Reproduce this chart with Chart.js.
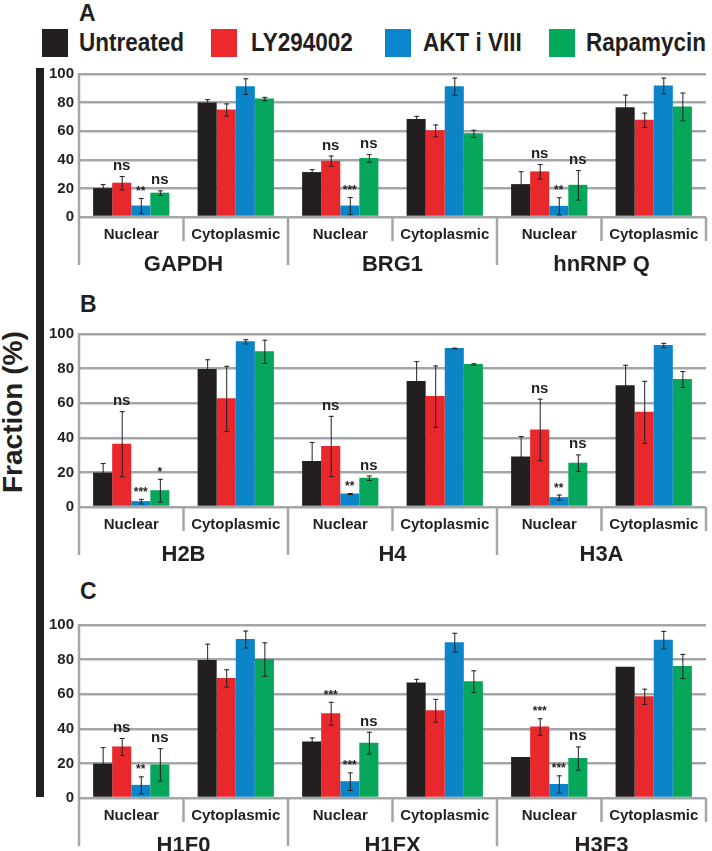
<!DOCTYPE html>
<html>
<head>
<meta charset="utf-8">
<script src="https://cdn.jsdelivr.net/npm/chart.js@4"></script>
<style>
  body { margin: 0; background: #fff; }
  #page { position: relative; width: 712px; height: 851px; overflow: hidden; font-family: "Liberation Sans", Arial, sans-serif; color: #231f20; }
  .box { position: absolute; }
  .sq { position: absolute; top: 29px; width: 26px; height: 28px; }
  .lg { position: absolute; top: 27px; font-weight: bold; font-size: 25px; line-height: 30px; transform: scaleX(0.9); transform-origin: left center; white-space: nowrap; }
  .letter { position: absolute; font-weight: bold; font-size: 23px; line-height: 23px; }
  canvas { position: absolute; left: 0; }
</style>
</head>
<body>
<div id="page">
  <div class="letter" style="left:79px;top:2px">A</div>
  <div class="letter" style="left:80px;top:293px">B</div>
  <div class="letter" style="left:80px;top:580px">C</div>

  <div class="sq" style="left:42px;background:#231f20"></div>
  <div class="lg" style="left:79px">Untreated</div>
  <div class="sq" style="left:211px;background:#ec2a2e"></div>
  <div class="lg" style="left:251px">LY294002</div>
  <div class="sq" style="left:385px;background:#0a86cc"></div>
  <div class="lg" style="left:423px">AKT i VIII</div>
  <div class="sq" style="left:549px;background:#05a95c"></div>
  <div class="lg" style="left:586px">Rapamycin</div>

  <div class="box" style="left:36px;top:68px;width:8px;height:729px;background:#231f20"></div>
  <div class="box" style="left:-67px;top:396px;width:160px;height:34px;transform:rotate(-90deg);font-weight:bold;font-size:28px;line-height:34px;text-align:center;white-space:nowrap">Fraction (%)</div>

  <canvas id="chartA" width="712" height="217" style="top:60px"></canvas>
  <canvas id="chartB" width="712" height="247" style="top:320px"></canvas>
  <canvas id="chartC" width="712" height="247" style="top:611px"></canvas>
</div>
<script>
const treatments = ['Untreated', 'LY294002', 'AKT i VIII', 'Rapamycin'];
const treatmentColors = ['#231f20', '#e8282d', '#0b84c8', '#06a65b'];
const fractions = ['Nuclear', 'Cytoplasmic'];
const yTicks = [0, 20, 40, 60, 80, 100];

// panel A
const proteinsA = ['GAPDH', 'BRG1', 'hnRNP Q'];
const untreatedA = [20.2, 80, 31.4, 68.6, 23, 76.8];
const lyA = [24, 75.2, 39.4, 60.6, 31.9, 68];
const aktA = [8, 91.5, 8, 91.5, 7.8, 92];
const rapaA = [17, 82.8, 41.3, 58.5, 22.5, 77.3];
const errUntreatedA = [2.8, 2.4, 2.1, 2.1, 9, 8.8];
const errLyA = [4.7, 4.2, 3.6, 4.1, 5.1, 5];
const errAktA = [5.3, 5.5, 6, 6, 6, 5.5];
const errRapaA = [1.6, 1.2, 2.7, 2.5, 10.3, 9.7];
const sigLyA = ['ns', 'ns', 'ns'];
const sigAktA = ['**', '***', '**'];
const sigRapaA = ['ns', 'ns', 'ns'];

// panel B
const proteinsB = ['H2B', 'H4', 'H3A'];
const untreatedB = [19.9, 79.7, 26.6, 72.9, 29.2, 70.4];
const lyB = [36.6, 62.8, 35.3, 64.1, 44.8, 55];
const aktB = [3.4, 95.8, 7.8, 91.9, 5.7, 93.6];
const rapaB = [9.7, 90, 16.9, 82.6, 25.6, 74];
const errUntreatedB = [5.5, 5.7, 11, 11.4, 11.8, 11.8];
const errLyB = [18.8, 18.8, 17.4, 17.7, 17.8, 17.9];
const errAktB = [1.3, 1.2, 0.3, 0.2, 1.5, 1.3];
const errRapaB = [6.6, 6.7, 1.3, 0.5, 4.8, 4.6];
const sigLyB = ['ns', 'ns', 'ns'];
const sigAktB = ['***', '**', '**'];
const sigRapaB = ['*', 'ns', 'ns'];

// panel C
const proteinsC = ['H1F0', 'H1FX', 'H3F3'];
const untreatedC = [19.9, 79.7, 32.6, 66.8, 23.7, 75.9];
const lyC = [29.8, 69.4, 49, 50.7, 41.3, 58.8];
const aktC = [7.6, 91.9, 9.7, 90.1, 8.1, 91.5];
const rapaC = [19.4, 80.3, 32, 67.5, 23.1, 76.3];
const errUntreatedC = [9.5, 9.5, 2.4, 2.1, 0, 0];
const errLyC = [4.9, 5, 6.6, 6.6, 4.8, 4.4];
const errAktC = [4.9, 4.9, 5.1, 5.4, 5, 5.1];
const errRapaC = [9.4, 9.7, 6.3, 6.3, 6.7, 7];
const sigLyC = ['ns', '***', '***'];
const sigAktC = ['**', '***', '***'];
const sigRapaC = ['ns', 'ns', 'ns'];

const gridGrey = '#a3a7aa';
const inkColor = '#231f20';

// error bars, significance marks, category labels and separators
const panelDecor = {
  id: 'panelDecor',
  afterDatasetsDraw(chart) {
    const ctx = chart.ctx, y = chart.scales.y;
    ctx.save();
    chart.data.datasets.forEach((ds, i) => {
      const meta = chart.getDatasetMeta(i);
      meta.data.forEach((bar, j) => {
        const e = ds.errors[j];
        const hi = y.getPixelForValue(ds.data[j] + e);
        if (e > 0) {
          const lo = y.getPixelForValue(ds.data[j] - e);
          ctx.strokeStyle = inkColor;
          ctx.lineWidth = 1;
          ctx.beginPath();
          ctx.moveTo(bar.x + 0.5, hi); ctx.lineTo(bar.x + 0.5, lo);
          ctx.moveTo(bar.x - 2, hi + 0.5); ctx.lineTo(bar.x + 3, hi + 0.5);
          ctx.moveTo(bar.x - 2, lo + 0.5); ctx.lineTo(bar.x + 3, lo + 0.5);
          ctx.stroke();
        }
        if (ds.sig && j % 2 === 0) {
          const s = ds.sig[j / 2];
          ctx.fillStyle = inkColor;
          ctx.textAlign = 'center';
          ctx.textBaseline = 'alphabetic';
          ctx.font = s === 'ns' ? 'bold 15px "Liberation Sans", Arial' : 'bold 12px "Liberation Sans", Arial';
          ctx.fillText(s, bar.x, hi - (s === 'ns' ? 6 : 3));
        }
      });
    });
    ctx.restore();
  },
  afterDraw(chart) {
    const ctx = chart.ctx, x = chart.scales.x, area = chart.chartArea;
    const n = chart.data.labels.length;
    const groups = chart.options.plugins.panelDecor.groups;
    ctx.save();
    ctx.strokeStyle = gridGrey;
    ctx.lineWidth = 2.5;
    ctx.beginPath();
    ctx.moveTo(area.left, area.top - 1); ctx.lineTo(area.left, area.bottom + 48);
    for (let j = 0; j < n; j++) {
      const b = j === n - 1 ? area.right : (x.getPixelForValue(j) + x.getPixelForValue(j + 1)) / 2;
      const len = (j % 2 === 1 && j !== n - 1) ? 48 : 24;
      ctx.moveTo(b, area.bottom); ctx.lineTo(b, area.bottom + len);
    }
    ctx.stroke();
    ctx.fillStyle = inkColor;
    ctx.textAlign = 'center';
    ctx.textBaseline = 'middle';
    ctx.font = 'bold 15px "Liberation Sans", Arial';
    chart.data.labels.forEach((lab, j) => ctx.fillText(lab, x.getPixelForValue(j), area.bottom + 18));
    ctx.font = 'bold 22px "Liberation Sans", Arial';
    groups.forEach((g, k) => {
      const cx = (x.getPixelForValue(2 * k) + x.getPixelForValue(2 * k + 1)) / 2;
      ctx.fillText(g, cx, area.bottom + 48);
    });
    ctx.restore();
  }
};

function makePanel(id, proteins, series, errs, sigs, padTop) {
  const labels = [];
  proteins.forEach(() => fractions.forEach(f => labels.push(f)));
  return new Chart(document.getElementById(id).getContext('2d'), {
    type: 'bar',
    data: {
      labels: labels,
      datasets: treatments.map((t, i) => ({
        label: t,
        data: series[i],
        errors: errs[i],
        sig: sigs[i],
        backgroundColor: treatmentColors[i],
        categoryPercentage: 0.73,
        barPercentage: 1
      }))
    },
    options: {
      responsive: false,
      animation: false,
      devicePixelRatio: 1,
      layout: { padding: { top: padTop, bottom: 60, right: 6, left: 0 } },
      plugins: {
        legend: { display: false },
        tooltip: { enabled: false },
        panelDecor: { groups: proteins }
      },
      scales: {
        x: { display: false },
        y: {
          min: 0, max: 100,
          afterBuildTicks: s => { s.ticks = yTicks.map(v => ({ value: v })); },
          afterFit: s => { s.width = 79; },
          border: { display: false },
          grid: { color: gridGrey, lineWidth: 2.5, drawTicks: false },
          ticks: { padding: 5, color: inkColor, font: { family: '"Liberation Sans", Arial', weight: 'bold', size: 15 } }
        }
      }
    },
    plugins: [panelDecor]
  });
}

makePanel('chartA', proteinsA,
  [untreatedA, lyA, aktA, rapaA],
  [errUntreatedA, errLyA, errAktA, errRapaA],
  [null, sigLyA, sigAktA, sigRapaA], 11.5);
makePanel('chartB', proteinsB,
  [untreatedB, lyB, aktB, rapaB],
  [errUntreatedB, errLyB, errAktB, errRapaB],
  [null, sigLyB, sigAktB, sigRapaB], 11.5);
makePanel('chartC', proteinsC,
  [untreatedC, lyC, aktC, rapaC],
  [errUntreatedC, errLyC, errAktC, errRapaC],
  [null, sigLyC, sigAktC, sigRapaC], 11.7);
</script>
</body>
</html>
